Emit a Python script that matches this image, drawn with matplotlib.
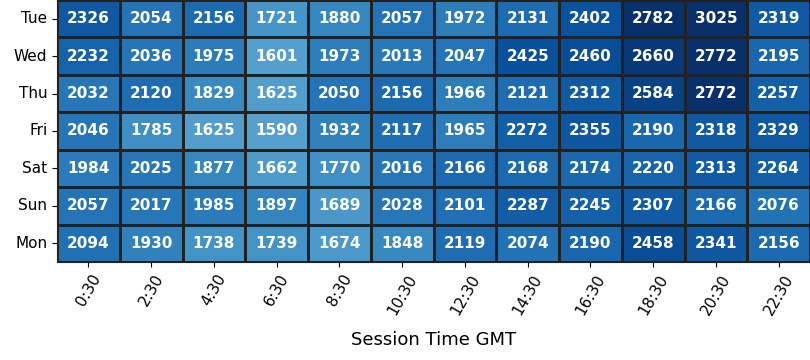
import numpy as np
import matplotlib
matplotlib.use("Agg")
import matplotlib.pyplot as plt
import seaborn as sns

days = ["Tue", "Wed", "Thu", "Fri", "Sat", "Sun", "Mon"]
times = ["0:30", "2:30", "4:30", "6:30", "8:30", "10:30",
         "12:30", "14:30", "16:30", "18:30", "20:30", "22:30"]

tue = [2326, 2054, 2156, 1721, 1880, 2057, 1972, 2131, 2402, 2782, 3025, 2319]
wed = [2232, 2036, 1975, 1601, 1973, 2013, 2047, 2425, 2460, 2660, 2772, 2195]
thu = [2032, 2120, 1829, 1625, 2050, 2156, 1966, 2121, 2312, 2584, 2772, 2257]
fri = [2046, 1785, 1625, 1590, 1932, 2117, 1965, 2272, 2355, 2190, 2318, 2329]
sat = [1984, 2025, 1877, 1662, 1770, 2016, 2166, 2168, 2174, 2220, 2313, 2264]
sun = [2057, 2017, 1985, 1897, 1689, 2028, 2101, 2287, 2245, 2307, 2166, 2076]
mon = [2094, 1930, 1738, 1739, 1674, 1848, 2119, 2074, 2190, 2458, 2341, 2156]

data = np.array([tue, wed, thu, fri, sat, sun, mon])

fig = plt.figure(figsize=(8.1, 3.6), dpi=100)
ax = fig.add_axes([57 / 810, 1 - 262 / 360, 753 / 810, 262 / 360])

sns.heatmap(data, ax=ax, cmap="Blues", vmin=100, vmax=2750, cbar=False,
            annot=True, fmt="d", linewidths=1, linecolor="#222222",
            annot_kws={"color": "white", "fontweight": "bold", "fontsize": 11},
            xticklabels=times, yticklabels=days)

ax.set_xticklabels(times, rotation=60, fontsize=11)
ax.set_yticklabels(days, rotation=0, fontsize=11)
ax.set_xlabel("Session Time GMT", fontsize=13, labelpad=10)
ax.set_ylabel("")
for s in ax.spines.values():
    s.set_visible(True)
    s.set_color("#222222")

fig.savefig("out.png", dpi=100)
